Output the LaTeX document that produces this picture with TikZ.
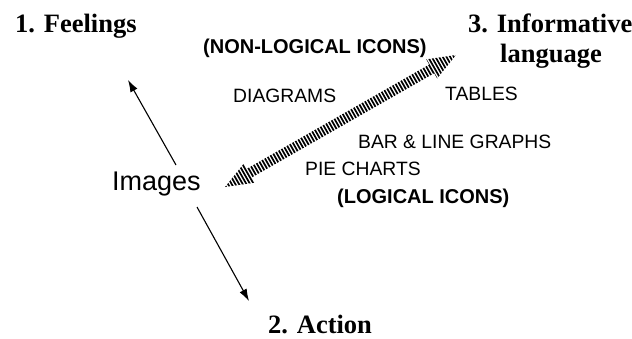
\documentclass[tikz,border=0pt]{standalone}
\usepackage{fontspec}
\setmainfont{Liberation Serif}
\setsansfont{Liberation Sans}
\usetikzlibrary{arrows.meta,calc}
\tikzset{
  txt/.style={inner sep=0pt, anchor=base west},
  serifhead/.style={txt, font=\fontsize{26.5}{30}\selectfont\rmfamily\bfseries},
  caplabel/.style={txt, font=\fontsize{19.3}{22}\selectfont\sffamily},
  boldlabel/.style={txt, font=\fontsize{20}{22}\selectfont\sffamily\bfseries},
  bigsans/.style={txt, font=\fontsize{27}{30}\selectfont\sffamily},
  thinarrow/.style={line width=1.1pt, -{Latex[length=12pt,width=8pt]}},
}
\begin{document}
\begin{tikzpicture}[x=1pt,y=-1pt]
\useasboundingbox (0,0) rectangle (632,338);
\node[serifhead] (feel) at (15,32) {1. Feelings};
\node[serifhead] (info) at (468,32) {3. Informative};
\node[serifhead] (lang) at (500,62) {language};
\node[serifhead] (action) at (268,333) {2. Action};
\node[bigsans] (img) at (112,190) {Images};
\node[boldlabel] (nonlog) at (203,53) {(NON-LOGICAL ICONS)};
\node[boldlabel] (logic) at (337,203) {(LOGICAL ICONS)};
\node[caplabel] (diag) at (233,102) {DIAGRAMS};
\node[caplabel] (tables) at (445,100) {TABLES};
\node[caplabel] (bar) at (358,148) {BAR \& LINE GRAPHS};
\node[caplabel] (pie) at (305,175) {PIE CHARTS};
% thin arrows
\coordinate (s1) at (176,165);
\coordinate (t1) at (128,80);
\coordinate (s2) at (197,207);
\coordinate (t2) at (249,301);
\draw[thinarrow] (s1) -- (t1);
\draw[thinarrow] (s2) -- (t2);
% hatched double arrow
\coordinate (h1) at (225,187);
\coordinate (h2) at (456,55);
\coordinate (b1) at ($(h1)!28pt!(h2)$);
\coordinate (b2) at ($(h2)!28pt!(h1)$);
\begin{scope}
\clip (h1) -- ($(b1)!11pt!90:(h2)$) -- ($(b1)!5pt!90:(h2)$)
  -- ($(b2)!5pt!-90:(h1)$) -- ($(b2)!11pt!-90:(h1)$) -- (h2)
  -- ($(b2)!11pt!90:(h1)$) -- ($(b2)!5pt!90:(h1)$)
  -- ($(b1)!5pt!-90:(h2)$) -- ($(b1)!11pt!-90:(h2)$) -- cycle;
\draw[line width=30pt, dash pattern=on 1.7pt off 1.5pt] (h1) -- (h2);
\end{scope}
\end{tikzpicture}
\end{document}
